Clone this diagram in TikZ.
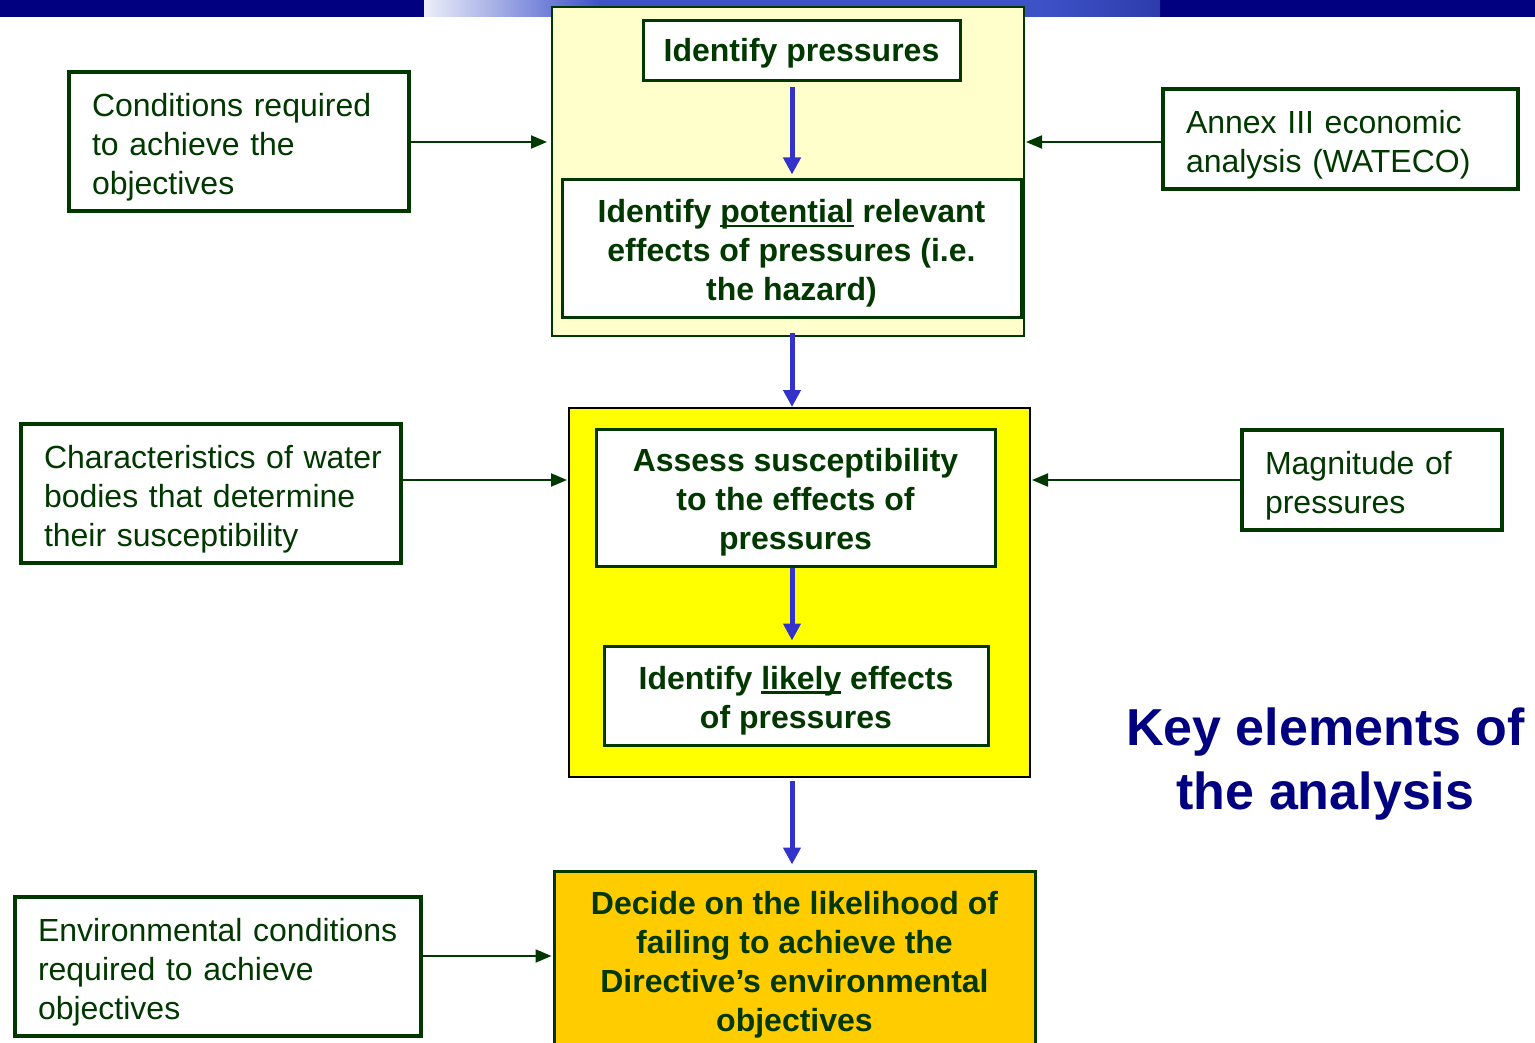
\documentclass[tikz,border=0pt]{standalone}
\usepackage{fontspec}
\setmainfont{Liberation Sans}
\usetikzlibrary{arrows.meta,calc}
\definecolor{txtgreen}{RGB}{0,56,0}
\definecolor{lightyel}{RGB}{255,255,204}
\definecolor{brightyel}{RGB}{255,255,0}
\definecolor{orangebox}{RGB}{255,204,0}
\definecolor{arrowblue}{RGB}{51,51,204}
\definecolor{navytxt}{RGB}{0,0,128}
\definecolor{barblue}{RGB}{62,82,200}
\definecolor{barlight}{RGB}{236,238,250}
\newcommand\myul[1]{\setbox0\hbox{#1}\rlap{\rule[-4.5pt]{\wd0}{2.6pt}}\box0{}}
\newcommand\strutone{\rule[-7pt]{0pt}{36pt}}
\newcommand\strutmulti{\rule[-7pt]{0pt}{40pt}}
\newcommand\strutside{\rule[-7pt]{0pt}{42pt}}
\newcommand\struttitle{\rule[-11pt]{0pt}{58pt}}
\begin{document}
\begin{tikzpicture}[x=1pt,y=-1pt,
  stepbox/.style={draw=txtgreen,line width=3pt,fill=white,text=txtgreen,
    align=center,inner sep=0pt,font=\bfseries\fontsize{32}{39}\selectfont},
  sidebox/.style={draw=txtgreen,line width=3.5pt,fill=white,text=txtgreen,
    align=left,inner ysep=0pt,inner xsep=23pt,font=\fontsize{32}{39}\selectfont},
  bluearrow/.style={draw=arrowblue,line width=5pt,-{Triangle[width=17pt,length=17pt]}},
  greenarrow/.style={draw=txtgreen,line width=2pt,-{Triangle[width=13pt,length=16pt]}}]
\useasboundingbox (0,0) rectangle (1535,1043);
% top bar
\fill[navytxt] (0,0) rectangle (424,17);
\fill[navytxt] (1160,0) rectangle (1535,17);
\shade[left color=barlight,right color=barblue] (424,0) rectangle (600,17);
\fill[barblue] (600,0) rectangle (1040,17);
\shade[left color=barblue,right color={rgb,255:red,45;green,60;blue,170}] (1040,0) rectangle (1160,17);
% column coordinate
\coordinate (col) at (792,0);
% outer boxes
\node[draw=txtgreen,line width=2pt,fill=lightyel,minimum width=472pt,minimum height=329pt,inner sep=0pt] (outer) at (788,171.5) {};
\node[draw=black,line width=2pt,fill=brightyel,minimum width=461pt,minimum height=369pt,inner sep=0pt] (mid) at (799.5,592.5) {};
% step boxes
\node[stepbox,minimum width=317pt,minimum height=60pt] (ip) at (801.5,51) {\strutone Identify pressures};
\node[stepbox,minimum width=459pt,minimum height=137pt] (pot) at (791.5,248.5) {\strutmulti Identify \myul{potential} relevant\\effects of pressures (i.e.\\the hazard)};
\node[stepbox,minimum width=399pt,minimum height=137pt] (assess) at (795.5,497.5) {\strutmulti Assess susceptibility\\to the effects of\\pressures};
\node[stepbox,minimum width=384pt,minimum height=99pt] (likely) at (796,695.5) {\strutmulti Identify \myul{likely} effects\\of pressures};
\node[stepbox,fill=orangebox,minimum width=481pt,minimum height=178pt] (decide) at (794.5,960) {\strutmulti Decide on the likelihood of\\failing to achieve the\\Directive’s environmental\\objectives};
% side boxes
\node[sidebox,text width=294pt,minimum height=139pt] (cond) at (239,141.5) {\strutside\mbox{Conditions required}\\\mbox{to achieve the}\\objectives};
\node[sidebox,text width=334pt,minimum height=139pt] (char) at (211,493.5) {\strutside\mbox{Characteristics of water}\\\mbox{bodies that determine}\\\mbox{their susceptibility}};
\node[sidebox,text width=360pt,minimum height=139pt] (env) at (218,966.5) {\strutside\mbox{Environmental conditions}\\\mbox{required to achieve}\\objectives};
\node[sidebox,text width=309pt,minimum height=100pt] (annex) at (1340.5,139) {\strutside\mbox{Annex III economic}\\\mbox{analysis (WATECO)}};
\node[sidebox,text width=214pt,minimum height=100pt] (magn) at (1372,480) {\strutside\mbox{Magnitude of}\\pressures};
% title
\node[text=navytxt,align=center,font=\bfseries\fontsize{52}{64}\selectfont] (title) at (1325.5,759) {\struttitle Key elements of\\the analysis};
% blue arrows
\draw[bluearrow,shorten <=5pt,shorten >=4pt] (col |- ip.south) -- (col |- pot.north);
\draw[bluearrow,shorten <=-4pt] (col |- outer.south) -- (col |- mid.north);
\draw[bluearrow,shorten >=4pt] (col |- assess.south) -- (col |- likely.north);
\draw[bluearrow,shorten <=3pt,shorten >=5pt] (col |- mid.south) -- (col |- decide.north);
% green arrows
\coordinate (r1) at (0,142);
\coordinate (r2) at (0,480);
\coordinate (r3) at (0,956);
\draw[greenarrow,shorten >=4pt] (cond.east |- r1) -- (outer.west |- r1);
\draw[greenarrow,shorten >=1pt] (annex.west |- r1) -- (outer.east |- r1);
\draw[greenarrow,shorten >=1pt] (char.east |- r2) -- (mid.west |- r2);
\draw[greenarrow,shorten >=1pt] (magn.west |- r2) -- (mid.east |- r2);
\draw[greenarrow,shorten >=1pt] (env.east |- r3) -- (decide.west |- r3);
\end{tikzpicture}
\end{document}
